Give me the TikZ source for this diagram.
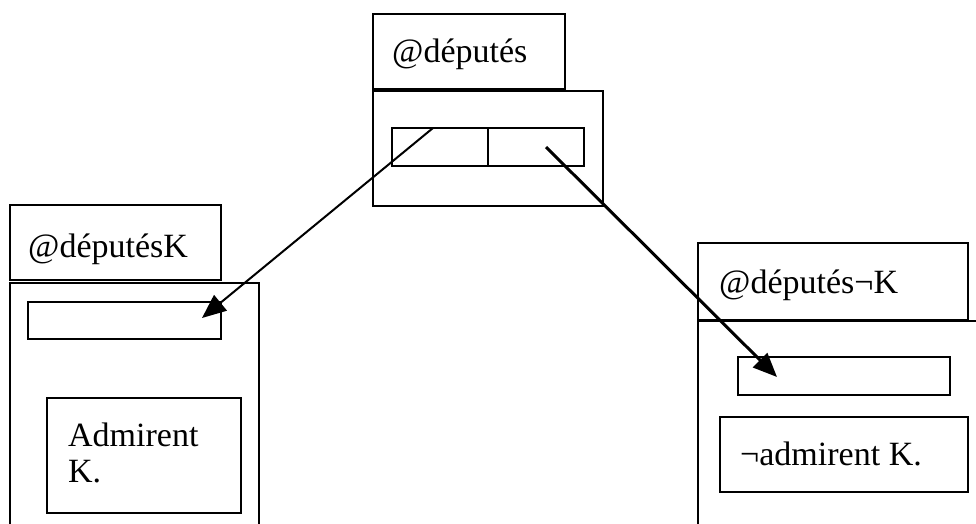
\documentclass[tikz,border=0pt]{standalone}
\usepackage{fontspec}
\setmainfont{Liberation Serif}
\usetikzlibrary{arrows.meta}
\begin{document}
\begin{tikzpicture}[x=1pt,y=-1pt,
  box/.style={draw, line width=2pt, inner sep=0pt, outer sep=0pt, anchor=north west},
  lbl/.style={inner sep=0pt, anchor=base west, font=\fontsize{34}{36}\selectfont},
  ptr/.style={-{Triangle[length=24pt,width=20pt]}}]
\useasboundingbox (0,0) rectangle (976,524);
\clip (0,0) rectangle (976,524);
% top structure
\node[box, minimum width=192pt, minimum height=75pt] (tl) at (373,14) {};
\node[box, minimum width=230pt, minimum height=115pt] (tm) at (373,91) {};
\node[box, minimum width=96pt, minimum height=38pt] (ta) at (392,128) {};
\node[box, minimum width=96pt, minimum height=38pt] (tb) at (488,128) {};
\node[lbl] (tt) at (392,63) {@députés};
% left structure
\node[box, minimum width=211pt, minimum height=75pt] (ll) at (10,205) {};
\node[box, minimum width=249pt, minimum height=260pt] (lm) at (10,283) {};
\node[box, minimum width=193pt, minimum height=37pt] (lp) at (28,302) {};
\node[box, minimum width=194pt, minimum height=115pt] (la) at (47,398) {};
\node[lbl] (lt) at (28,257) {@députésK};
\node[lbl] (lat1) at (68,446) {Admirent};
\node[lbl] (lat2) at (68,482) {K.};
% right structure
\node[box, minimum width=270pt, minimum height=77pt] (rl) at (698,243) {};
\node[box, minimum width=300pt, minimum height=240pt] (rm) at (698,321) {};
\node[box, minimum width=212pt, minimum height=38pt] (rp) at (738,357) {};
\node[box, minimum width=248pt, minimum height=75pt] (ra) at (720,417) {};
\node[lbl] (rt) at (719,293) {@députés¬K};
\node[lbl] (rat) at (740,465) {¬admirent K.};
% pointers
\coordinate (s1) at (433,128);
\coordinate (e1) at (202,318);
\coordinate (s2) at (546,147);
\coordinate (e2) at (777,377);
\draw[ptr, line width=2pt] (s1) -- (e1);
\draw[ptr, line width=3pt] (s2) -- (e2);
\end{tikzpicture}
\end{document}
